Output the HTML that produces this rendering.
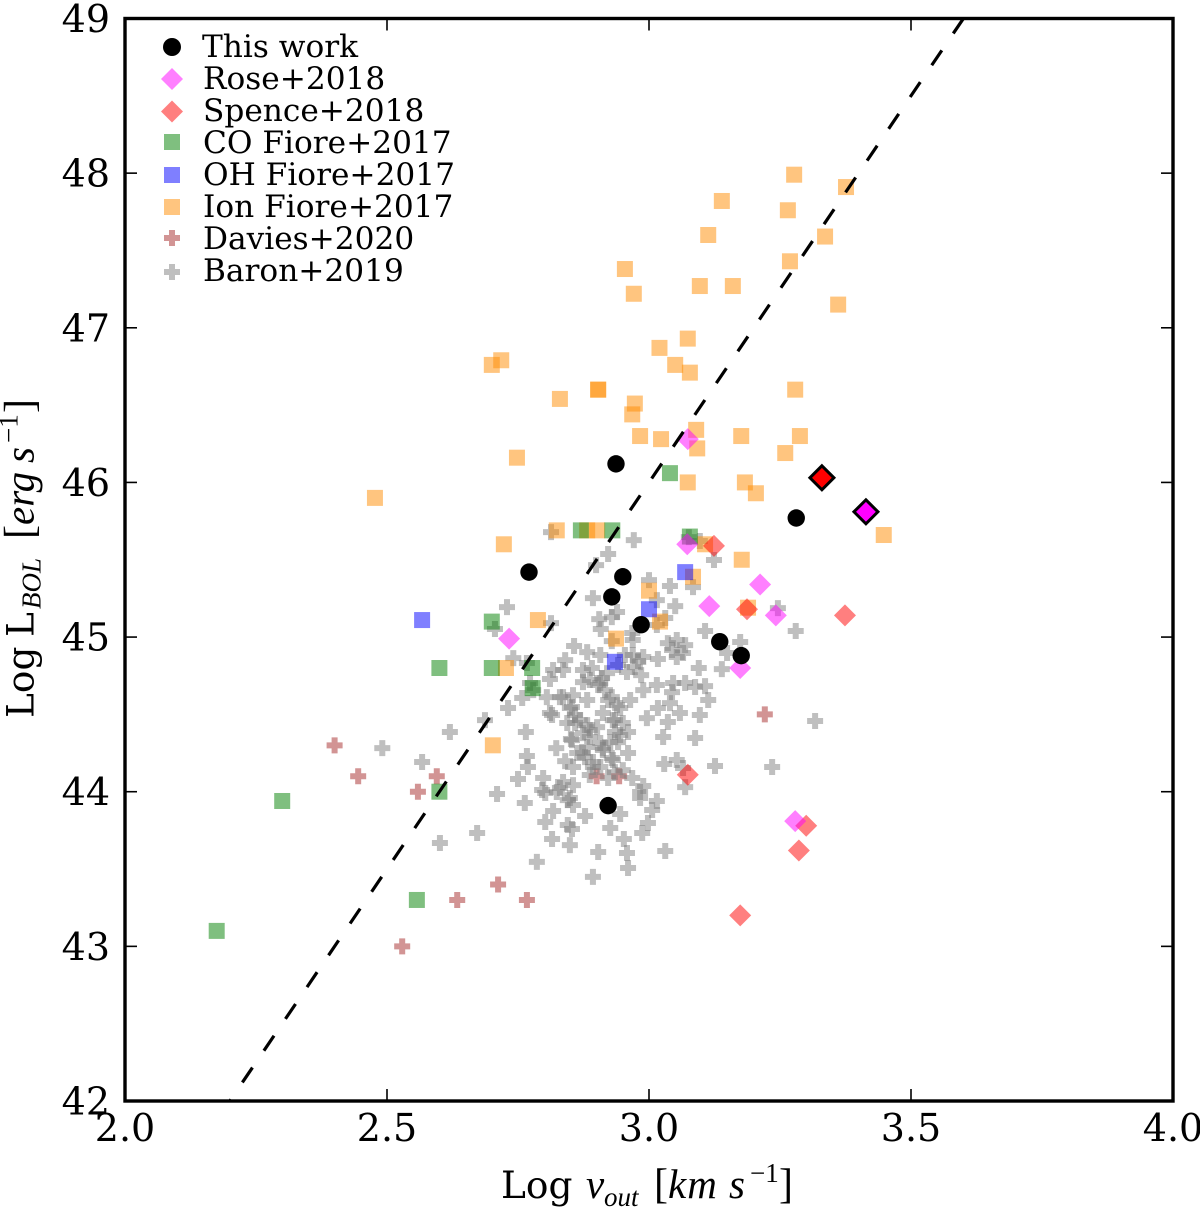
<!DOCTYPE html>
<html>
<head>
<meta charset="utf-8">
<title>Log L_BOL vs Log v_out</title>
<style>
html,body{margin:0;padding:0;background:#fff;width:1200px;height:1209px;overflow:hidden}
svg{display:block}
text{font-family:"DejaVu Serif","Liberation Serif",serif;fill:#000}
.tick{font-size:38px}
.leg{font-size:31.2px}
.lab{font-size:37.5px}
.m{font-family:"Liberation Serif","DejaVu Serif",serif;font-style:italic;font-size:41px}
.ms{font-family:"Liberation Serif","DejaVu Serif",serif;font-style:italic;font-size:27px}
.br{font-family:"Liberation Serif","DejaVu Serif",serif;font-size:42px}
.sup{font-family:"Liberation Serif","DejaVu Serif",serif;font-size:27px}
</style>
</head>
<body>
<svg id="chart" xmlns="http://www.w3.org/2000/svg" width="1200" height="1209" viewBox="0 0 1200 1209">
  <rect x="0" y="0" width="1200" height="1209" fill="#fff"/>
  <defs><clipPath id="plot-clip"><rect x="125" y="18.5" width="1048" height="1082.5"/></clipPath></defs>
  <g id="marks" clip-path="url(#plot-clip)"></g>
  <g id="ticks"></g>
  <rect x="125" y="18.5" width="1048" height="1082.5" fill="none" stroke="#000" stroke-width="3.4"/>

  <g>
    <circle cx="172" cy="47" r="9" fill="#000"/>
    <text class="leg" x="202" y="57">This work</text>
    <polygon points="172,68 183,79 172,90 161,79" fill="#f0f" fill-opacity="0.5"/>
    <text class="leg" x="203" y="89">Rose+2018</text>
    <polygon points="172,100.500 183,111.500 172,122.500 161,111.500" fill="#f00" fill-opacity="0.5"/>
    <text class="leg" x="203" y="121">Spence+2018</text>
    <rect x="164" y="134" width="16" height="16" fill="#008000" fill-opacity="0.5"/>
    <text class="leg" x="203" y="153">CO Fiore+2017</text>
    <rect x="164" y="167" width="16" height="16" fill="#00f" fill-opacity="0.5"/>
    <text class="leg" x="203" y="185">OH Fiore+2017</text>
    <rect x="164" y="199" width="16" height="16" fill="#ff8c00" fill-opacity="0.5"/>
    <text class="leg" x="203" y="217">Ion Fiore+2017</text>
    <path d="M169 230h6v5h5v6h-5v5h-6v-5h-5v-6h5z" fill="#a52a2a" fill-opacity="0.5"/>
    <text class="leg" x="203" y="249">Davies+2020</text>
    <path d="M169 264h6v5h5v6h-5v5h-6v-5h-5v-6h5z" fill="#808080" fill-opacity="0.5"/>
    <text class="leg" x="203" y="281">Baron+2019</text>
  </g>

  <g>
    <text class="lab" x="501" y="1198">Log</text>
    <text class="m" x="586" y="1198">v</text>
    <text class="ms" x="604" y="1206">out</text>
    <text class="br" x="654" y="1198">[</text>
    <text class="m" x="668" y="1198" letter-spacing="1">km</text>
    <text class="m" x="729" y="1198">s</text>
    <text class="sup" x="750" y="1182">−1</text>
    <text class="br" x="779" y="1198">]</text>
  </g>
  <g transform="translate(33.500 718) rotate(-90)">
    <text class="lab" x="0" y="0">Log</text>
    <text class="lab" x="81" y="0">L</text>
    <text class="ms" x="109" y="7">BOL</text>
    <text class="br" x="179" y="0">[</text>
    <text class="m" x="193" y="0">erg</text>
    <text class="m" x="255" y="0">s</text>
    <text class="sup" x="275" y="-16">−1</text>
    <text class="br" x="305" y="0">]</text>
  </g>
</svg>
<script>
const xTickValues = [2.0, 2.5, 3.0, 3.5, 4.0];
const xTickLabels = ["2.0", "2.5", "3.0", "3.5", "4.0"];
const yTickValues = [42, 43, 44, 45, 46, 47, 48, 49];
const yTickLabels = ["42", "43", "44", "45", "46", "47", "48", "49"];

const fitX = [2.2, 3.6];
const fitY = [42, 49];

const thisWorkX = [2.937, 2.771, 2.950, 2.929, 2.985, 3.135, 3.176, 3.281, 2.922];
const thisWorkY = [46.12, 45.42, 45.39, 45.26, 45.08, 44.97, 44.88, 45.77, 43.91];

const highlightRedX = [3.33];
const highlightRedY = [46.03];
const highlightMagentaX = [3.414];
const highlightMagentaY = [45.81];

const roseX = [3.074, 3.073, 3.212, 3.115, 3.242, 2.733, 3.174, 3.279];
const roseY = [46.28, 45.60, 45.34, 45.20, 45.14, 44.99, 44.80, 43.81];

const spenceX = [3.124, 3.187, 3.374, 3.074, 3.300, 3.286, 3.174];
const spenceY = [45.59, 45.18, 45.14, 44.11, 43.78, 43.62, 43.20];

const coX = [3.04, 2.93, 2.87, 3.078, 2.70, 2.60, 2.70, 2.777, 2.778, 2.60, 2.30, 2.557, 2.175];
const coY = [46.06, 45.69, 45.69, 45.65, 45.10, 44.80, 44.80, 44.80, 44.67, 44.00, 43.94, 43.30, 43.10];

const ohX = [2.567, 3.0, 3.069, 2.935];
const ohY = [45.11, 45.18, 45.42, 44.84];

const ionX = [2.477, 2.70, 2.718, 2.748, 2.723, 2.824, 2.882, 2.901, 2.788, 2.727, 2.702, 2.83, 2.903, 2.903, 2.954, 2.971, 3.02, 3.05, 3.074, 3.078, 2.973, 2.968, 2.983, 3.023, 3.09, 3.092, 3.074, 3.176, 3.183, 3.204, 3.26, 3.288, 3.279, 3.097, 3.16, 3.113, 3.139, 3.277, 3.265, 3.376, 3.336, 3.269, 3.361, 3.448, 3.177, 3.107, 3.084, 3.0, 3.021, 2.937, 3.189];
const ionY = [45.90, 46.76, 46.79, 46.16, 45.60, 45.69, 45.69, 45.69, 45.11, 44.80, 44.30, 46.54, 46.60, 46.60, 47.38, 47.22, 46.87, 46.76, 46.93, 46.71, 46.51, 46.44, 46.30, 46.28, 46.34, 46.22, 46.00, 46.30, 46.00, 45.93, 46.19, 46.30, 46.60, 47.27, 47.27, 47.60, 47.82, 47.99, 47.76, 47.91, 47.59, 47.43, 47.15, 45.66, 45.50, 45.60, 45.39, 45.30, 45.10, 44.99, 45.19];

const daviesX = [2.40, 2.445, 2.595, 2.559, 2.712, 2.634, 2.767, 2.529, 3.221, 2.90, 2.943];
const daviesY = [44.30, 44.10, 44.10, 44.00, 43.40, 43.30, 43.30, 43.00, 44.50, 44.10, 44.10];

const baronX = [2.813, 2.922, 2.899, 2.893, 2.729, 2.706, 2.813, 2.905, 2.929, 2.908, 2.929, 2.741, 2.857, 2.882, 2.907, 2.84, 2.817, 2.767, 2.836, 2.811, 2.874, 2.874, 2.907, 2.773, 2.779, 2.758, 2.855, 2.83, 2.882, 2.805, 2.731, 2.811, 2.849, 2.912, 2.687, 2.929, 2.939, 2.971, 3.0, 3.04, 3.084, 3.097, 3.076, 3.124, 3.015, 3.05, 3.031, 3.015, 2.939, 2.968, 2.969, 3.107, 3.246, 3.28, 3.174, 3.149, 3.139, 3.095, 3.053, 3.036, 3.069, 3.044, 3.053, 3.065, 2.969, 2.989, 3.017, 2.979, 2.973, 2.958, 2.941, 2.92, 2.985, 2.989, 3.015, 3.046, 3.069, 3.088, 3.107, 3.044, 3.113, 3.04, 3.017, 3.059, 3.097, 2.996, 2.945, 3.317, 2.935, 2.95, 2.96, 2.926, 2.912, 2.96, 3.036, 3.027, 3.088, 2.931, 3.029, 3.053, 3.065, 3.126, 3.235, 3.069, 2.935, 2.968, 2.95, 2.989, 2.983, 2.983, 2.945, 3.015, 3.006, 2.998, 2.987, 2.926, 2.952, 2.958, 2.96, 3.031, 2.893, 2.62, 2.765, 2.851, 2.567, 2.767, 2.769, 2.75, 2.71, 2.84, 2.855, 2.798, 2.836, 2.796, 2.83, 2.802, 2.855, 2.849, 2.855, 2.763, 2.817, 2.878, 2.802, 2.845, 2.853, 2.815, 2.849, 2.903, 2.672, 2.601, 2.786, 2.893, 2.878, 2.907, 2.863, 2.882, 2.907, 2.844, 2.868, 2.901, 2.931, 2.922, 2.491, 2.887, 2.823, 2.916, 2.887, 2.859, 2.945, 2.922, 2.964, 2.954, 2.853, 2.874, 2.887, 2.941, 2.912, 2.874, 2.929, 2.893, 2.887, 2.824, 2.845, 2.853, 2.859, 2.815, 2.882, 2.935, 2.836, 2.903, 2.891, 2.91];
const baronY = [45.679, 45.537, 45.465, 45.252, 45.194, 45.052, 45.09, 45.116, 45.129, 45.052, 44.974, 44.864, 44.942, 44.903, 44.884, 44.851, 44.787, 44.832, 44.787, 44.729, 44.787, 44.709, 44.703, 44.703, 44.657, 44.606, 44.625, 44.612, 44.593, 44.612, 44.541, 44.509, 44.541, 44.509, 44.463, 44.612, 44.56, 45.627, 45.368, 45.33, 45.323, 45.621, 45.646, 45.498, 45.239, 45.2, 45.123, 45.078, 45.162, 45.026, 44.981, 45.039, 45.187, 45.039, 44.968, 44.897, 44.793, 44.8, 44.981, 44.961, 44.948, 44.916, 44.871, 44.897, 44.884, 44.871, 44.858, 44.845, 44.806, 44.774, 44.819, 44.767, 44.754, 44.657, 44.69, 44.703, 44.703, 44.677, 44.683, 44.644, 44.593, 44.573, 44.541, 44.509, 44.496, 44.476, 44.541, 44.457, 44.386, 44.444, 44.386, 44.321, 44.27, 44.25, 44.451, 44.354, 44.347, 44.205, 44.179, 44.205, 44.153, 44.166, 44.16, 44.03, 44.127, 44.089, 44.14, 44.037, 43.998, 43.959, 43.856, 43.94, 43.882, 43.798, 43.733, 43.765, 43.694, 43.604, 43.507, 43.617, 43.449, 44.386, 44.386, 44.341, 44.192, 44.231, 44.16, 44.082, 43.985, 44.198, 44.16, 44.089, 44.063, 44.011, 44.024, 43.992, 44.043, 43.959, 43.914, 43.927, 43.875, 43.843, 43.804, 43.785, 43.759, 43.694, 43.655, 43.61, 43.733, 43.668, 43.546, 44.192, 44.224, 44.16, 44.25, 44.289, 44.315, 44.444, 44.463, 44.418, 44.463, 44.089, 44.282, 44.399, 44.282, 44.657, 44.722, 44.496, 44.367, 44.593, 44.593, 44.884, 44.334, 44.379, 44.354, 44.321, 44.282, 44.25, 44.218, 44.16, 44.108, 43.998, 43.946, 44.548, 44.444, 44.496, 44.431, 44.463, 44.612, 44.69, 44.8, 44.735];

const SVG_NS = "http://www.w3.org/2000/svg";
const marks = document.getElementById("marks");
const ticks = document.getElementById("ticks");

function xScale(v) { return 125 + (v - 2) * 524; }
function yScale(v) { return 1101 - (v - 42) * (1082.5 / 7); }

function drawSquare(parent, x, y, color) {
  const el = document.createElementNS(SVG_NS, "rect");
  el.setAttribute("x", xScale(x) - 8);
  el.setAttribute("y", yScale(y) - 8);
  el.setAttribute("width", 16);
  el.setAttribute("height", 16);
  el.setAttribute("fill", color);
  el.setAttribute("fill-opacity", 0.5);
  parent.appendChild(el);
  return el;
}
function drawDiamond(parent, x, y, color, half, opacity, stroke) {
  const cx = xScale(x), cy = yScale(y);
  const el = document.createElementNS(SVG_NS, "polygon");
  el.setAttribute("points", [cx, cy - half, cx + half, cy, cx, cy + half, cx - half, cy].join(" "));
  el.setAttribute("fill", color);
  el.setAttribute("fill-opacity", opacity);
  if (stroke) {
    el.setAttribute("stroke", "#000");
    el.setAttribute("stroke-width", 3);
  }
  parent.appendChild(el);
  return el;
}
function drawPlus(parent, x, y, color) {
  const cx = xScale(x), cy = yScale(y);
  const el = document.createElementNS(SVG_NS, "path");
  el.setAttribute("d", "M" + (cx - 3) + " " + (cy - 8) + "h6v5h5v6h-5v5h-6v-5h-5v-6h5z");
  el.setAttribute("fill", color);
  el.setAttribute("fill-opacity", 0.5);
  parent.appendChild(el);
  return el;
}
function drawCircle(parent, x, y) {
  const el = document.createElementNS(SVG_NS, "circle");
  el.setAttribute("cx", xScale(x));
  el.setAttribute("cy", yScale(y));
  el.setAttribute("r", 8.7);
  el.setAttribute("fill", "#000");
  parent.appendChild(el);
  return el;
}
function makeGroup(parent) {
  const g = document.createElementNS(SVG_NS, "g");
  parent.appendChild(g);
  return g;
}

const daviesGroup = makeGroup(marks);


daviesX.forEach(function (x, i) {
  const el = drawPlus(daviesGroup, x, daviesY[i], "#a52a2a");
  
  
});

const baronGroup = makeGroup(marks);


baronX.forEach(function (x, i) {
  const el = drawPlus(baronGroup, x, baronY[i], "#808080");
  
  
});

const ionGroup = makeGroup(marks);


ionX.forEach(function (x, i) {
  const el = drawSquare(ionGroup, x, ionY[i], "#ff8c00");
  
  
});

const ohGroup = makeGroup(marks);


ohX.forEach(function (x, i) {
  const el = drawSquare(ohGroup, x, ohY[i], "#0000ff");
  
  
});

const coGroup = makeGroup(marks);


coX.forEach(function (x, i) {
  const el = drawSquare(coGroup, x, coY[i], "#008000");
  
  
});

const spenceGroup = makeGroup(marks);


spenceX.forEach(function (x, i) {
  const el = drawDiamond(spenceGroup, x, spenceY[i], "#ff0000", 11, 0.5, false);
  
  
});

const roseGroup = makeGroup(marks);


roseX.forEach(function (x, i) {
  const el = drawDiamond(roseGroup, x, roseY[i], "#ff00ff", 11, 0.5, false);
  
  
});

const fitLine = document.createElementNS(SVG_NS, "line");
fitLine.setAttribute("x1", xScale(fitX[0]));
fitLine.setAttribute("y1", yScale(fitY[0]));
fitLine.setAttribute("x2", xScale(fitX[1]));
fitLine.setAttribute("y2", yScale(fitY[1]));
fitLine.setAttribute("stroke", "#000");
fitLine.setAttribute("stroke-width", 3.2);
fitLine.setAttribute("stroke-dasharray", "18 20.4");
fitLine.setAttribute("stroke-dashoffset", 16);


marks.appendChild(fitLine);

const thisWorkGroup = makeGroup(marks);


thisWorkX.forEach(function (x, i) {
  const el = drawCircle(thisWorkGroup, x, thisWorkY[i]);
  
  
});

highlightRedX.forEach(function (x, i) {
  const el = drawDiamond(marks, x, highlightRedY[i], "#ff0000", 12, 1, true);
  
  
});
highlightMagentaX.forEach(function (x, i) {
  const el = drawDiamond(marks, x, highlightMagentaY[i], "#ff00ff", 12, 1, true);
  
  
});

function tickLine(x1, y1, x2, y2) {
  const l = document.createElementNS(SVG_NS, "line");
  l.setAttribute("x1", x1);
  l.setAttribute("y1", y1);
  l.setAttribute("x2", x2);
  l.setAttribute("y2", y2);
  l.setAttribute("stroke", "#000");
  l.setAttribute("stroke-width", 1.6);
  ticks.appendChild(l);
  return l;
}
function tickText(x, y, anchor, str) {
  const t = document.createElementNS(SVG_NS, "text");
  t.setAttribute("class", "tick");
  t.setAttribute("x", x);
  t.setAttribute("y", y);
  t.setAttribute("text-anchor", anchor);
  t.textContent = str;
  ticks.appendChild(t);
  return t;
}

xTickValues.forEach(function (v, i) {
  const px = xScale(v);
  const bottom = tickLine(px, 1101, px, 1089);
  
  
  const top = tickLine(px, 18.5, px, 30.5);
  
  
  const label = tickText(px, 1141, "middle", xTickLabels[i]);
  
  
});
yTickValues.forEach(function (v, i) {
  const py = yScale(v);
  const left = tickLine(125, py, 137, py);
  
  
  const right = tickLine(1173, py, 1161, py);
  
  
  const label = tickText(110, py + 13.5, "end", yTickLabels[i]);
  
  
});
</script>
</body>
</html>
